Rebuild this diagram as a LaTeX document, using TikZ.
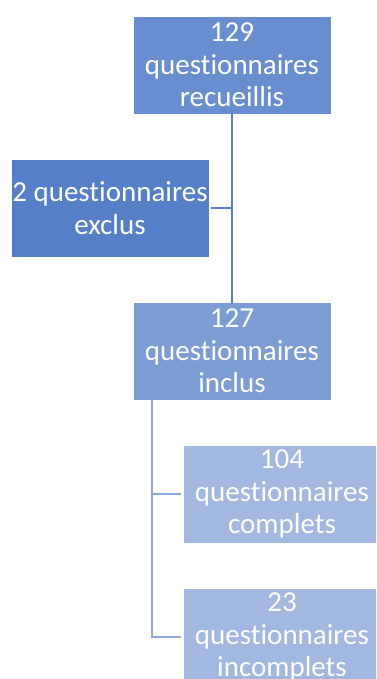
\documentclass[tikz,border=0pt]{standalone}
\usepackage{fontspec}
\setmainfont[Ligatures={NoCommon}]{Carlito}
\definecolor{cA}{RGB}{104,142,207}
\definecolor{cB}{RGB}{85,128,200}
\definecolor{cC}{RGB}{123,157,212}
\definecolor{cD}{RGB}{162,184,224}
\definecolor{lA}{RGB}{91,127,199}
\definecolor{lB}{RGB}{143,168,219}
\begin{document}
\begin{tikzpicture}[x=1pt,y=-1pt,
  box/.style={rectangle, draw=white, line width=0.6pt, minimum width=198pt, minimum height=98pt, inner sep=0pt,
    text=white, align=center, font=\fontsize{29}{32.5}\selectfont},
  linkA/.style={draw=lA, line width=2pt},
  linkB/.style={draw=lB, line width=2pt}]
\useasboundingbox (0,0) rectangle (376,679);
\clip (0,0) rectangle (376,679);
\node[box, fill=cA] (a) at (232,65) {129\\questionnaires\\recueillis};
\node[box, fill=cB] (b) at (110,208) {2 questionnaires\\exclus};
\node[box, fill=cC] (c) at (232,351) {127\\questionnaires\\inclus};
\node[box, fill=cD] (d) at (282,494) {104\\questionnaires\\complets};
\node[box, fill=cD] (e) at (282,637) {23\\questionnaires\\incomplets};
\draw[linkA] ([yshift=2pt]a.south) -- ([yshift=-2pt]c.north);
\draw[linkA] ([xshift=2pt]b.east) -- (b.east -| a.south);
\coordinate (t) at ([xshift=19pt,yshift=2pt]c.south west);
\draw[linkB] (t) |- ([xshift=-2pt]d.west);
\draw[linkB] (t) |- ([xshift=-2pt]e.west);
\end{tikzpicture}
\end{document}
